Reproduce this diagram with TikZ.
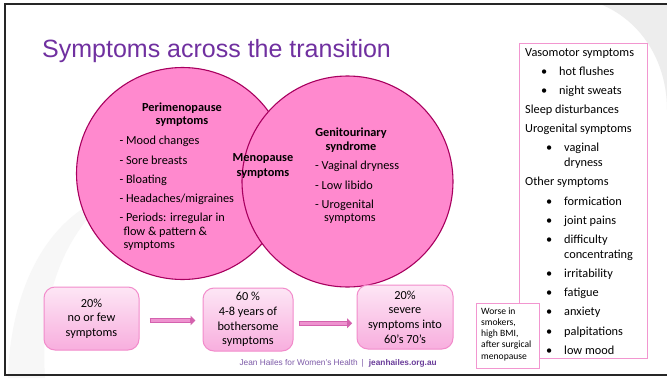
\documentclass[tikz,border=0pt]{standalone}
\usepackage{fontspec}
\setmainfont{Carlito}
\newfontfamily\arialf{Liberation Sans}
\usetikzlibrary{arrows.meta}

\definecolor{titlepurple}{HTML}{7030A0}
\definecolor{footpurple}{HTML}{7D5AA8}
\definecolor{footbold}{HTML}{6A3D9A}
\definecolor{circlepink}{HTML}{FF89CE}
\definecolor{circleedge}{HTML}{A8005F}
\definecolor{panelpink}{HTML}{F296D0}
\definecolor{stageedge}{HTML}{F28BCB}
\definecolor{stagetop}{HTML}{FDE6F5}
\definecolor{stagebottom}{HTML}{F8AEDE}
\definecolor{arrowedge}{HTML}{D462AE}
\definecolor{arrowfill}{HTML}{EE92CF}
\definecolor{swoosh}{HTML}{EDEDED}

% multi-line text nodes: the base anchor sits on the LAST line
\tikzset{
  txt/.style={inner sep=0pt, anchor=base west, font=\fontsize{12.3}{14.2}\selectfont, align=left},
  hdr/.style={inner sep=0pt, anchor=base, font=\bfseries\fontsize{12.3}{12.6}\selectfont, align=center},
  paneltxt/.style={inner sep=0pt, anchor=base west, font=\fontsize{12.3}{15}\selectfont, align=left},
  venn/.style={circle, draw=circleedge, line width=1.1pt, fill=circlepink, inner sep=0pt},
  stagebox/.style={rounded corners=11pt, draw=stageedge, line width=1pt,
    top color=stagetop, bottom color=stagebottom, inner sep=0pt,
    font=\fontsize{12.3}{14.7}\selectfont, align=center},
  flowarrow/.style={line width=5.3pt, draw=arrowedge, -{Triangle[length=5pt,width=9.5pt]}},
  flowinner/.style={line width=2.6pt, draw=arrowfill},
}

\begin{document}
\begin{tikzpicture}[x=1pt,y=-1pt]
\useasboundingbox (0,0) rectangle (667,378);
\fill[white] (0,0) rectangle (667,378);

% faint decorative swooshes in the slide background
\fill[swoosh] (600,4) .. controls (640,20) and (667,60) .. (667,110) -- (667,4) -- cycle;
\fill[swoosh!45] (8,378) .. controls (10,300) and (40,220) .. (110,195) .. controls (60,240) and (40,300) .. (45,378) -- cycle;

% slide frame
\draw[line width=2.3pt, black!85] (668,4) -- (5,4) -- (5,375.3) -- (668,375.3);

% title
\node[inner sep=0pt, anchor=base west, text=titlepurple,
      font=\arialf\fontsize{25}{25}\selectfont] (title) at (42,57) {Symptoms across the transition};

% Venn circles
\node[venn, minimum size=212pt] (peri) at (182.5,173.5) {};
\node[venn, minimum size=211pt] (geni) at (347.5,181.5) {};

% perimenopause circle text
\node[hdr] (perihdr) at (182,124) {Perimenopause\\symptoms};
\node[txt] (p1) at (119.3,144) {- Mood changes};
\node[txt] (p2) at (119.3,164) {- Sore breasts};
\node[txt] (p3) at (119.3,183) {- Bloating};
\node[txt] (p4) at (119.3,202.3) {- Headaches/migraines};
\node[txt, font=\fontsize{12.3}{13.4}\selectfont] (p5) at (119.3,248.5) {- Periods: irregular in\\\hspace*{4pt}flow \& pattern \&\\\hspace*{4pt}symptoms};

% overlap text
\node[hdr, font=\bfseries\fontsize{12.3}{14.4}\selectfont] (menohdr) at (263,176) {Menopause\\symptoms};

% genitourinary circle text
\node[hdr, font=\bfseries\fontsize{12.3}{14}\selectfont] (genihdr) at (351,150) {Genitourinary\\syndrome};
\node[txt] (g1) at (315,169.3) {- Vaginal dryness};
\node[txt] (g2) at (315,189) {- Low libido};
\node[txt, font=\fontsize{12.3}{12.8}\selectfont] (g3) at (315,221) {- Urogenital\\\hspace*{9pt}symptoms};

% symptom list panel
\node[draw=panelpink, line width=1.4pt, minimum width=128pt, minimum height=315pt,
      anchor=north west, inner sep=0pt] (panel) at (519,43) {};
\node[paneltxt] (v0) at (525,56) {Vasomotor symptoms};
\node[paneltxt] (v1b) at (541,75.2) {•};
\node[paneltxt] (v1) at (559,75.2) {hot flushes};
\node[paneltxt] (v2b) at (541,94.3) {•};
\node[paneltxt] (v2) at (559,94.3) {night sweats};
\node[paneltxt] (sl) at (525,113.4) {Sleep disturbances};
\node[paneltxt] (ug) at (525,132.6) {Urogenital symptoms};
\node[paneltxt] (ug1b) at (546,151.7) {•};
\node[paneltxt] (ug1) at (564,166.7) {vaginal\\dryness};
\node[paneltxt] (ot) at (525,185.9) {Other symptoms};
\node[paneltxt] (o1b) at (546,205) {•};
\node[paneltxt] (o1) at (564,205) {formication};
\node[paneltxt] (o2b) at (546,224.2) {•};
\node[paneltxt] (o2) at (564,224.2) {joint pains};
\node[paneltxt] (o3b) at (546,243.3) {•};
\node[paneltxt] (o3) at (564,258.3) {difficulty\\concentrating};
\node[paneltxt] (o4b) at (546,277.5) {•};
\node[paneltxt] (o4) at (564,277.5) {irritability};
\node[paneltxt] (o5b) at (546,296.6) {•};
\node[paneltxt] (o5) at (564,296.6) {fatigue};
\node[paneltxt] (o6b) at (546,315.8) {•};
\node[paneltxt] (o6) at (564,315.8) {anxiety};
\node[paneltxt] (o7b) at (546,335) {•};
\node[paneltxt] (o7) at (564,335) {palpitations};
\node[paneltxt] (o8b) at (546,354.1) {•};
\node[paneltxt] (o8) at (564,354.1) {low mood};

% risk note box, overlapping the panel edge
\node[draw=panelpink, line width=1.3pt, fill=white, minimum width=63pt, minimum height=65pt,
      anchor=north west, inner sep=0pt] (note) at (476,303) {};
\node[inner sep=0pt, anchor=base west, align=left,
      font=\fontsize{9.6}{11.2}\selectfont] (notetxt) at (481,359)
      {Worse in\\smokers,\\high BMI,\\after surgical\\menopause};

% stages along the transition
\node[stagebox, minimum width=95pt, minimum height=63pt] (s1) at (91.5,318.5) {20\%\\no or few\\symptoms};
\node[stagebox, minimum width=90pt, minimum height=63pt] (s2) at (248,319.5) {60 \%\\4-8 years of\\bothersome\\symptoms};
\node[stagebox, minimum width=96pt, minimum height=64pt] (s3) at (405,317) {20\%\\severe\\symptoms into\\60’s 70’s};

\coordinate (lane1) at (0,320.5);
\coordinate (lane2) at (0,323.3);
\draw[flowarrow, shorten <=10pt, shorten >=7pt] (s1.east |- lane1) -- (s2.west |- lane1);
\draw[flowinner, shorten <=11pt, shorten >=13pt] (s1.east |- lane1) -- (s2.west |- lane1);
\draw[flowarrow, shorten <=5pt, shorten >=4.3pt] (s2.east |- lane2) -- (s3.west |- lane2);
\draw[flowinner, shorten <=6pt, shorten >=10pt] (s2.east |- lane2) -- (s3.west |- lane2);

% footer
\node[inner sep=0pt, anchor=base west, font=\arialf\fontsize{8.3}{8.3}\selectfont, text=footpurple] (footer)
  at (239.3,365.7) {Jean Hailes for Women’s Health\hspace{4pt}|\hspace{5pt}\textcolor{footbold}{\bfseries jeanhailes.org.au}};
\end{tikzpicture}
\end{document}
